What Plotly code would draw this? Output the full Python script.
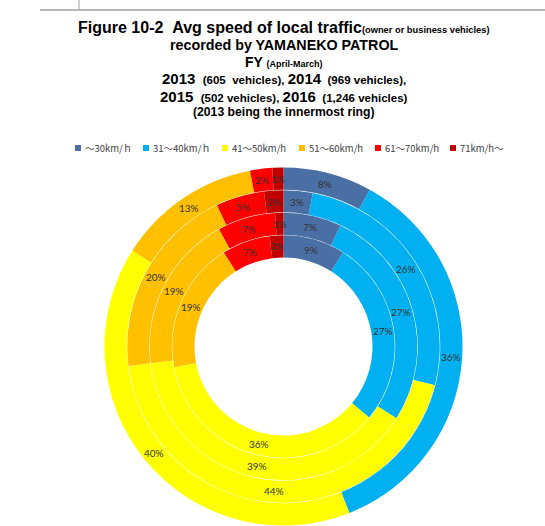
import math
import plotly.graph_objects as go

# ---------------- data ----------------
categories = ["～30km/ｈ", "31～40km/ｈ", "41～50km/h", "51～60km/h", "61～70km/h", "71km/h～"]
years = ["2013", "2014", "2015", "2016"]          # innermost -> outermost
share_2013 = [9, 27, 36, 19, 7, 2]
share_2014 = [7, 27, 39, 19, 7, 1]
share_2015 = [3, 26, 44, 20, 5, 2]
share_2016 = [8, 36, 40, 13, 2, 1]
ring_values = [share_2013, share_2014, share_2015, share_2016]

# ---------------- style / layout ----------------
W, H = 545, 526
colors = ["#4A6FA5", "#00B0F0", "#FFFF00", "#FFC000", "#FF0000", "#C00000"]
cx, cy = 283.5, 346.5
r_hole, r_outer = 89.0, 179.0
gap = 0.5
label_font = dict(family="Lato, Open Sans, sans-serif", size=10, color="#333333")

fig = go.Figure()
annotations = []
n = len(ring_values)
step = (r_outer - r_hole) / n
for k, (yr, vals) in enumerate(zip(years, ring_values)):
    r_in = r_hole + k * step + (gap / 2 if k > 0 else 0)
    r_out = r_hole + (k + 1) * step - (gap / 2 if k < n - 1 else 0)
    fig.add_trace(go.Pie(
        labels=categories, values=vals, name=yr,
        sort=False, direction="clockwise", rotation=0,
        hole=r_in / r_out,
        domain=dict(x=[(cx - r_out) / W, (cx + r_out) / W],
                    y=[1 - (cy + r_out) / H, 1 - (cy - r_out) / H]),
        marker=dict(colors=colors, line=dict(width=0)),
        textinfo="none", hoverinfo="label+value+name",
        showlegend=False,
    ))
    # data labels at the middle of each ring segment (derived from the values)
    total = float(sum(vals))
    r_mid = (r_hole + (k + 0.5) * step)
    cum = 0.0
    for v in vals:
        mid = (cum + v / 2) / total * 2 * math.pi
        cum += v
        annotations.append(dict(
            text=f"{v}%", x=(cx + r_mid * math.sin(mid)) / W,
            y=1 - (cy - r_mid * math.cos(mid)) / H,
            xref="paper", yref="paper", xanchor="center", yanchor="middle",
            showarrow=False, font=label_font))

# ---------------- title (multi-size lines) ----------------
def s(t, size):
    return f"<span style='font-size:{size}px'>{t}</span>"
title_lines = [
    ("Figure 10-2\u00a0\u00a0Avg speed of local traffic" + s("(owner or business vehicles)", 9.3), 16, 27),
    ("recorded by YAMANEKO PATROL", 14.3, 45),
    ("FY " + s("(April-March)", 9), 14, 62),
    ("2013 " + s("\u00a0(605\u00a0\u00a0vehicles), ", 11.5) + "2014" + s("\u00a0\u00a0(969 vehicles),", 11.5), 15, 78),
    ("2015 " + s("\u00a0(502 vehicles), ", 11.5) + "2016" + s("\u00a0\u00a0(1,246 vehicles)", 11.5), 15, 96),
    ("(2013 being the innermost ring)", 12.2, 112),
]
for txt, size, ypx in title_lines:
    annotations.append(dict(
        text=f"<b>{txt}</b>", x=284 / W, y=1 - ypx / H, xref="paper", yref="paper",
        xanchor="center", yanchor="middle", showarrow=False,
        font=dict(family="Liberation Sans, Arial, sans-serif", size=size, color="#000000")))

# ---------------- legend (manual, compact like the original) ----------------
legend_x = [75, 143, 222, 299, 375, 450]
legend_y = 148
shapes = []
for cat, col, lx in zip(categories, colors, legend_x):
    shapes.append(dict(type="rect", xref="paper", yref="paper",
                       x0=lx / W, x1=(lx + 6) / W,
                       y0=1 - (legend_y + 3) / H, y1=1 - (legend_y - 3) / H,
                       fillcolor=col, line=dict(width=0)))
    annotations.append(dict(
        text=cat, x=(lx + 8) / W, y=1 - legend_y / H, xref="paper", yref="paper",
        xanchor="left", yanchor="middle", showarrow=False,
        font=dict(family="Noto Sans CJK JP, sans-serif", size=9.5, color="#404040")))

# frame lines of the original sheet
shapes.append(dict(type="line", xref="paper", yref="paper",
                   x0=40 / W, x1=1, y0=1 - 10 / H, y1=1 - 10 / H,
                   line=dict(color="#A0A0A0", width=1.5)))
shapes.append(dict(type="line", xref="paper", yref="paper",
                   x0=79 / W, x1=79 / W, y0=1 - 10 / H, y1=1,
                   line=dict(color="#A0A0A0", width=1)))

fig.update_layout(
    width=W, height=H, margin=dict(l=0, r=0, t=0, b=0),
    paper_bgcolor="white", plot_bgcolor="white",
    showlegend=False,
    annotations=annotations, shapes=shapes,
)
fig.write_html("out.html")
